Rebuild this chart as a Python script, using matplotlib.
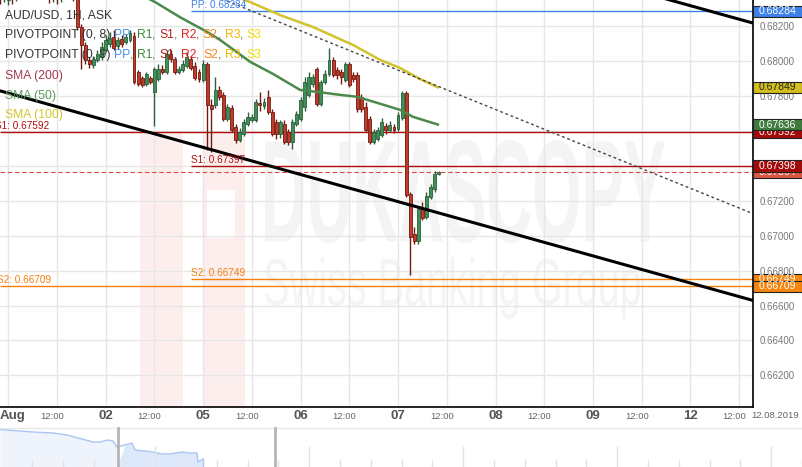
import numpy as np
import matplotlib.pyplot as plt
import matplotlib.transforms as mtransforms
from matplotlib.patches import Rectangle, PathPatch
from matplotlib.textpath import TextPath
from matplotlib.font_manager import FontProperties

plt.rcParams['font.family'] = ['Liberation Sans', 'DejaVu Sans']

# AUD/USD 1H candles, hour 0 = 01.08 00:00 (weekend removed)
hours = np.arange(-2, 107)
opens = [0.68383, 0.68360, 0.68348, 0.68383, 0.68354, 0.68394, 0.68428, 0.68406, 0.68440, 0.68417,
         0.68388, 0.68406, 0.68371, 0.68354, 0.68377, 0.68360, 0.68371, 0.68394, 0.68383, 0.68360,
         0.68194, 0.68092, 0.68006, 0.67978, 0.68006, 0.68023, 0.68063, 0.68098, 0.68137, 0.68086,
         0.68126, 0.68109, 0.68120, 0.68143, 0.67937, 0.67903, 0.67869, 0.67903, 0.67823, 0.67897,
         0.67955, 0.67937, 0.68041, 0.68012, 0.67937, 0.67949, 0.67972, 0.68012, 0.67972, 0.67937,
         0.67892, 0.67984, 0.67749, 0.67749, 0.67834, 0.67806, 0.67669, 0.67732, 0.67623, 0.67549,
         0.67584, 0.67641, 0.67663, 0.67663, 0.67760, 0.67743, 0.67795, 0.67709, 0.67652, 0.67584,
         0.67641, 0.67595, 0.67538, 0.67641, 0.67669, 0.67737, 0.67806, 0.67869, 0.67955, 0.67755,
         0.67880, 0.67926, 0.68006, 0.67949, 0.67937, 0.67892, 0.67984, 0.67920, 0.67920, 0.67795,
         0.67737, 0.67669, 0.67538, 0.67555, 0.67578, 0.67629, 0.67606, 0.67623, 0.67612, 0.67675,
         0.67817, 0.67241, 0.67007, 0.66967, 0.67155, 0.67109, 0.67223, 0.67269, 0.67354]
highs = [0.68406, 0.68417, 0.68406, 0.68406, 0.68417, 0.68451, 0.68463, 0.68457, 0.68468, 0.68434,
         0.68423, 0.68417, 0.68388, 0.68394, 0.68394, 0.68388, 0.68411, 0.68417, 0.68406, 0.68383,
         0.68212, 0.68109, 0.68023, 0.68029, 0.68063, 0.68109, 0.68149, 0.68166, 0.68177, 0.68137,
         0.68149, 0.68155, 0.68177, 0.68166, 0.67949, 0.67915, 0.67937, 0.67915, 0.67966, 0.67984,
         0.67978, 0.68063, 0.68063, 0.68023, 0.67972, 0.68006, 0.68052, 0.68029, 0.67995, 0.67955,
         0.68006, 0.67995, 0.67783, 0.67909, 0.67857, 0.67823, 0.67755, 0.67749, 0.67641, 0.67618,
         0.67669, 0.67709, 0.67698, 0.67783, 0.67823, 0.67789, 0.67834, 0.67726, 0.67669, 0.67663,
         0.67663, 0.67612, 0.67669, 0.67715, 0.67795, 0.67909, 0.67937, 0.67926, 0.67966, 0.67892,
         0.67949, 0.68075, 0.68023, 0.67966, 0.67955, 0.67995, 0.67995, 0.67937, 0.67937, 0.67812,
         0.67766, 0.67686, 0.67612, 0.67623, 0.67675, 0.67646, 0.67657, 0.67641, 0.67709, 0.67829,
         0.67829, 0.67252, 0.67052, 0.67172, 0.67195, 0.67252, 0.67298, 0.67372, 0.67372]
lows = [0.68326, 0.68337, 0.68320, 0.68326, 0.68343, 0.68383, 0.68388, 0.68394, 0.68400, 0.68371,
        0.68366, 0.68354, 0.68331, 0.68337, 0.68326, 0.68337, 0.68354, 0.68360, 0.68343, 0.68177,
        0.67955, 0.67984, 0.67961, 0.67961, 0.67995, 0.68006, 0.68052, 0.68080, 0.68063, 0.68069,
        0.68080, 0.68098, 0.68109, 0.67869, 0.67857, 0.67852, 0.67857, 0.67869, 0.67629, 0.67886,
        0.67926, 0.67926, 0.67995, 0.67926, 0.67926, 0.67937, 0.67961, 0.67949, 0.67892, 0.67880,
        0.67880, 0.67492, 0.67481, 0.67732, 0.67777, 0.67657, 0.67657, 0.67595, 0.67532, 0.67538,
        0.67572, 0.67629, 0.67652, 0.67652, 0.67715, 0.67726, 0.67698, 0.67572, 0.67555, 0.67561,
        0.67527, 0.67521, 0.67498, 0.67629, 0.67657, 0.67715, 0.67795, 0.67852, 0.67743, 0.67743,
        0.67869, 0.67915, 0.67909, 0.67897, 0.67869, 0.67880, 0.67852, 0.67880, 0.67709, 0.67709,
        0.67595, 0.67527, 0.67527, 0.67543, 0.67566, 0.67584, 0.67595, 0.67589, 0.67601, 0.67663,
        0.67223, 0.66773, 0.66950, 0.66955, 0.67092, 0.67098, 0.67212, 0.67252, 0.67349]
closes = [0.68360, 0.68394, 0.68383, 0.68354, 0.68394, 0.68428, 0.68406, 0.68440, 0.68417, 0.68388,
          0.68406, 0.68371, 0.68354, 0.68377, 0.68360, 0.68371, 0.68394, 0.68383, 0.68360, 0.68194,
          0.68092, 0.68006, 0.67984, 0.68012, 0.68041, 0.68080, 0.68120, 0.68132, 0.68075, 0.68120,
          0.68098, 0.68137, 0.68160, 0.67880, 0.67869, 0.67863, 0.67926, 0.67880, 0.67955, 0.67955,
          0.67937, 0.68041, 0.68012, 0.67937, 0.67955, 0.67984, 0.68023, 0.67961, 0.67903, 0.67897,
          0.67984, 0.67749, 0.67726, 0.67834, 0.67795, 0.67669, 0.67737, 0.67606, 0.67549, 0.67595,
          0.67652, 0.67680, 0.67680, 0.67766, 0.67749, 0.67766, 0.67709, 0.67584, 0.67584, 0.67652,
          0.67538, 0.67538, 0.67652, 0.67698, 0.67777, 0.67880, 0.67909, 0.67909, 0.67755, 0.67880,
          0.67926, 0.68006, 0.67920, 0.67920, 0.67909, 0.67984, 0.67863, 0.67897, 0.67726, 0.67726,
          0.67606, 0.67538, 0.67595, 0.67606, 0.67652, 0.67606, 0.67635, 0.67606, 0.67692, 0.67817,
          0.67235, 0.66995, 0.66967, 0.67155, 0.67103, 0.67229, 0.67280, 0.67354, 0.67364]

# moving averages
sma50_h = [30, 36.2, 42.3, 49.0, 52.2, 59.6, 65.2, 71.9, 76.1, 81.7, 85.9, 91.6, 96.5, 99.7, 105.8]
sma50_v = [0.68411, 0.68337, 0.68251, 0.68166, 0.68120, 0.67995, 0.67926, 0.67834, 0.67823,
           0.67806, 0.67795, 0.67755, 0.67720, 0.67680, 0.67636]
sma100_h = [54.6, 59.6, 66.9, 75.1, 84.9, 91.6, 96.5, 101.4, 105.8]
sma100_v = [0.68383, 0.68337, 0.68263, 0.68194, 0.68092, 0.68006, 0.67960, 0.67897, 0.67849]

# trend lines (two points each)
trend_low_h, trend_low_v = [-2, 183.4], [0.67829, 0.66629]
trend_up_h, trend_up_v = [160, 183.4], [0.68368, 0.68217]
trend_dot_h, trend_dot_v = [50, 183.4], [0.68380, 0.67126]

# pivot levels: (value, start hour, colour, label)
pivots = [(0.67592, -3.2, '#b00d0d', 'S1: 0.67592'),
          (0.66709, -2.7, '#f57f0c', 'S2: 0.66709'),
          (0.68284, 45, '#3d82e8', 'PP: 0.68284'),
          (0.67397, 45, '#b00d0d', 'S1: 0.67397'),
          (0.66749, 45, '#f57f0c', 'S2: 0.66749')]
last_price = 0.67364

# right side value boxes: (value, text, face, text colour)
boxes = [(0.67592, '0.67592', '#a30b0b', 'white'),
         (0.67636, '0.67636', '#3f7a3f', 'white'),
         (0.67849, '0.67849', '#d4bf1f', '#222222'),
         (0.68284, '0.68284', '#3d82e8', 'white'),
         (0.67364, '0.67364', '#dc5846', 'white'),
         (0.67398, '0.67398', '#a30b0b', 'white'),
         (0.66749, '0.66749', '#f7860f', 'white'),
         (0.66709, '0.66709', '#f7860f', 'white')]

day_ticks = [0, 24, 48, 72, 96, 120, 144, 168]
day_labels = ['Aug', '02', '05', '06', '07', '08', '09', '12']
half_ticks = [12, 36, 60, 84, 108, 132, 156, 180]
y_ticks = [0.662, 0.664, 0.666, 0.668, 0.670, 0.672, 0.674, 0.676, 0.678, 0.680, 0.682]

# navigator strip series
nav_t = [0, 33, 53, 67, 93, 100, 108, 113, 117, 125, 132, 135, 145, 153, 162, 170, 182, 190, 197, 198, 203]
nav_v = [37.5, 35, 34, 32, 25, 25, 27, 26, 20, 22, 24, 17, 16, 15, 13, 13, 15, 14, 14, 5, 8]

W, H = 803, 467
fig = plt.figure(figsize=(W / 100, H / 100), dpi=100)
pix = mtransforms.Affine2D().scale(1 / W, 1 / H) + fig.transFigure

ax = fig.add_axes([0, 60 / H, 753 / W, 407 / H])
ax.set_xlim(-2, 183.4)
ax.set_ylim(0.66019, 0.68349)
ax.set_axisbelow(True)
for s in ['left', 'top']:
    ax.spines[s].set_visible(False)
for s in ['right', 'bottom']:
    ax.spines[s].set_color('black')
    ax.spines[s].set_linewidth(1.2)
ax.set_xticks(day_ticks + half_ticks)
ax.set_xticklabels([])
ax.tick_params(axis='x', length=0)
ax.yaxis.tick_right()
ax.set_yticks(y_ticks)
ax.set_yticklabels(['%.5f' % v for v in y_ticks], fontsize=7, color='#777777')
ax.tick_params(axis='y', length=0, pad=5)
ax.grid(True, color='#e6e6e6', linewidth=1)

# watermark
def watermark(text, x0, y0, w, h, fp):
    tp = TextPath((0, 0), text, size=1, prop=fp)
    bb = tp.get_extents()
    tr = mtransforms.Affine2D().translate(-bb.x0, -bb.y0).scale(w / bb.width, h / bb.height).translate(x0, H - y0 - h)
    ax.add_patch(PathPatch(tp, transform=tr + pix, facecolor='#f4f4f4', edgecolor='none', zorder=0.1))
watermark('DUKASCOPY', 265, 140, 400, 103, FontProperties(family='Liberation Sans', weight='bold'))
watermark('Swiss Banking Group', 265, 257, 375, 62, FontProperties(family='Liberation Sans'))
for (x0, y0, w, h, c) in [(140, 133, 43, 274, '#fdeeee'), (203, 133, 42, 274, '#fdeeee'),
                          (207, 190, 28, 48, 'white')]:
    ax.add_patch(Rectangle((x0, H - y0 - h), w, h, transform=pix, facecolor=c, edgecolor='none', zorder=0.15))

# pivot lines
for v, h0, c, lab in pivots:
    ax.hlines(v, max(h0, -2), 183.4, color=c, linewidth=1, zorder=2)
    ax.annotate(lab, (h0, v), xytext=(0, 1), textcoords='offset points', fontsize=7.2,
                color=c, va='bottom', ha='left', zorder=6, annotation_clip=False)
ax.axhline(last_price, color='#e04a3a', linewidth=0.8, linestyle=(0, (4, 2.5)), zorder=2)

# candles
o, hi, lo, c = map(np.array, (opens, highs, lows, closes))
up = c >= o
body_col = np.where(up, '#3f8f58', '#c43a2a')
edge_col = np.where(up, '#2b5e3a', '#6e1a10')
ax.vlines(hours, lo, hi, colors=edge_col, linewidth=1, zorder=3)
ax.bar(hours, np.maximum(np.abs(c - o), 0.00003), bottom=np.minimum(o, c), width=0.72,
       color=body_col, edgecolor=edge_col, linewidth=0.6, zorder=4)

ax.plot(sma50_h, sma50_v, color='#4b8a4b', linewidth=1.8, zorder=5)
ax.plot(sma100_h, sma100_v, color='#d3c22c', linewidth=1.8, zorder=5)
ax.plot(trend_dot_h, trend_dot_v, color='#444444', linewidth=1, linestyle=(0, (2, 2)), zorder=5)
ax.plot(trend_low_h, trend_low_v, color='black', linewidth=2.2, zorder=5)
ax.plot(trend_up_h, trend_up_v, color='black', linewidth=2.2, zorder=5)

# value boxes on right
bt = mtransforms.blended_transform_factory(ax.transAxes, ax.transData)
half = 0.00033
for i, (v, txt, fc, tc) in enumerate(boxes):
    ax.add_patch(Rectangle((1.0, v - half), 49 / 753, 2 * half, transform=bt, facecolor=fc,
                           edgecolor='#222222', linewidth=0.8, clip_on=False, zorder=10 + i))
    ax.text(1.008, v, txt, transform=bt, color=tc, fontsize=7.5, va='center', ha='left',
            clip_on=False, zorder=10.5 + i)

# x labels
xt = mtransforms.blended_transform_factory(ax.transData, ax.transAxes)
for t, lab in zip(day_ticks, day_labels):
    ax.text(t if lab != 'Aug' else -2, -0.023, lab, transform=xt, ha='center' if lab != 'Aug' else 'left',
            va='center', fontsize=9.5, fontweight='bold', color='#555555', clip_on=False)
for t in half_ticks:
    ax.text(t - 1.2, -0.023, '12:00', transform=xt, ha='center', va='center', fontsize=6.8,
            color='#666666', clip_on=False)
fig.text(775, H - 416, '12.08.2019', transform=pix, ha='center', va='center', fontsize=6.8, color='#666666')

# legend text in the top-left corner
pivot_parts = [('PP', '#4a8fe8'), (', ', '#666666'), ('R1', '#3a8a3a'), (', ', '#666666'),
               ('S1', '#b41e1e'), (', ', '#666666'), ('R2', '#e82020'), (', ', '#666666'),
               ('S2', '#f7861b'), (', ', '#666666'), ('R3', '#f5b400'), (', ', '#666666'),
               ('S3', '#f2de00')]
legend_rows = [
    [('AUD/USD, 1H, ASK', '#333333')],
    [('PIVOTPOINT (0, 8) ', '#333333')] + pivot_parts,
    [('PIVOTPOINT (0, 9) ', '#333333')] + pivot_parts,
    [('SMA (200)', '#a3374c')],
    [('SMA (50)', '#5b9b5b')],
    [('SMA (100)', '#d4c52c')],
]
row_y = [15, 35, 55, 76, 96, 115]
for ry, parts in zip(row_y, legend_rows):
    prev = fig.text(5, H - ry, parts[0][0], transform=pix, color=parts[0][1], fontsize=8.7,
                    va='center', ha='left', zorder=20)
    for s, col in parts[1:]:
        prev = ax.annotate(s, xy=(1, 0), xycoords=prev, va='bottom', ha='left', color=col,
                           fontsize=8.7, zorder=20, annotation_clip=False)

# navigator strip at the bottom
nav = fig.add_axes([0, 0, 1, 40 / H])
nav.set_xlim(0, W)
nav.set_ylim(0, 40)
nav.axis('off')
nt = np.array(nav_t)
nv = np.array(nav_v)
nav.fill_between(nt, 0, nv, where=nt <= 118, color='#eef3fc', linewidth=0, interpolate=True)
nav.fill_between(nt, 0, nv, where=nt >= 118, color='#dde8fa', linewidth=0, interpolate=True)
nav.plot(nt, nv, color='#a9c5f2', linewidth=1)
nav.plot([203, 203], [0, 8], color='#a9c5f2', linewidth=1)
for k in range(26):
    tx = 32 + k * 30.8
    tall = k % 5 == 4
    nav.plot([tx, tx], [0, 20 if tall else 7], color='#e3e3e3', linewidth=1)
nav.plot([0, W], [39.5, 39.5], color='#e8e8e8', linewidth=1)
for hx in [118, 275]:
    nav.plot([hx, hx], [0, 39], color='#b5b5b5', linewidth=2)

fig.savefig('out.png', dpi=100)
